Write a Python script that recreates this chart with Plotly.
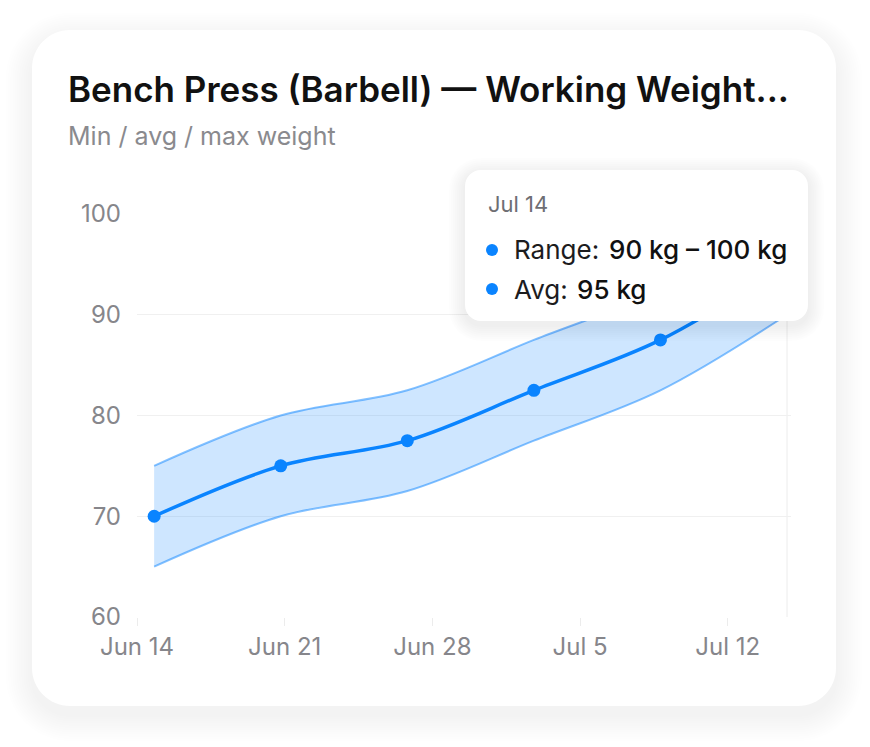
import plotly.graph_objects as go

# ---------------- data ----------------
dates = ["2024-06-14 19:30", "2024-06-20 19:30", "2024-06-26 19:30",
         "2024-07-02 19:30", "2024-07-08 19:30", "2024-07-14 19:30"]
min_w = [65, 70, 72.5, 77.5, 82.5, 90]
avg_w = [70, 75, 77.5, 82.5, 87.5, 95]
max_w = [75, 80, 82.5, 87.5, 92.5, 100]

title_text = "Bench Press (Barbell) — Working Weight..."
subtitle_text = "Min / avg / max weight"
tip_date = "Jul 14"
tip_range_label = "Range:"
tip_range_value = "90 kg – 100 kg"
tip_avg_label = "Avg:"
tip_avg_value = "95 kg"

# ---------------- layout geometry (pixels) ----------------
W, H = 870, 747
PL, PR, PT, PB = 137, 791, 214, 617

def fx(px):
    return (px - PL) / (PR - PL)

def fy(py):
    return (PB - py) / (PB - PT)

def rpath(x0, y0, x1, y1, r):
    k = 0.5523 * r
    def P(x, y):
        return f"{fx(x):.5f},{fy(y):.5f}"
    s = f"M{P(x0 + r, y0)} L{P(x1 - r, y0)} "
    s += f"C{P(x1 - r + k, y0)} {P(x1, y0 + r - k)} {P(x1, y0 + r)} "
    s += f"L{P(x1, y1 - r)} "
    s += f"C{P(x1, y1 - r + k)} {P(x1 - r + k, y1)} {P(x1 - r, y1)} "
    s += f"L{P(x0 + r, y1)} "
    s += f"C{P(x0 + r - k, y1)} {P(x0, y1 - r + k)} {P(x0, y1 - r)} "
    s += f"L{P(x0, y0 + r)} "
    s += f"C{P(x0, y0 + r - k)} {P(x0 + r - k, y0)} {P(x0 + r, y0)} Z"
    return s

shapes = []

def shadowed_box(x0, y0, x1, y1, r, layer, n, step, dy, alpha):
    for i in range(n, 0, -1):
        e = i * step
        shapes.append(dict(type="path", xref="paper", yref="paper", layer=layer,
                           path=rpath(x0 - e, y0 - e + dy, x1 + e, y1 + e + dy, r + e),
                           fillcolor=f"rgba(0,0,0,{alpha})", line=dict(width=0)))
    shapes.append(dict(type="path", xref="paper", yref="paper", layer=layer,
                       path=rpath(x0, y0, x1, y1, r),
                       fillcolor="#ffffff", line=dict(width=0)))

# card
shadowed_box(32, 30, 836, 706, 38, "below", 12, 2.2, 9, 0.0045)

# hover cursor line at last point
shapes.append(dict(type="line", xref="x", yref="paper", layer="between",
                   x0=dates[-1], x1=dates[-1], y0=0, y1=1,
                   line=dict(color="#ececec", width=1)))

# tooltip
shadowed_box(465, 170, 808, 321, 16, "above", 8, 2.0, 4, 0.009)
for cy in (250, 289):
    shapes.append(dict(type="circle", xref="paper", yref="paper", layer="above",
                       x0=fx(492 - 6), x1=fx(492 + 6), y0=fy(cy + 6), y1=fy(cy - 6),
                       fillcolor="#0a84ff", line=dict(width=0)))

FONT = "Inter"

def ann(text, px, py, size, color, weight=400):
    return dict(text=text, x=fx(px), y=fy(py), xref="paper", yref="paper",
                xanchor="left", yanchor="middle", showarrow=False,
                font=dict(family=FONT, size=size, color=color, weight=weight))

annotations = [
    ann(title_text, 66, 89, 35, "#111111", 600),
    ann(subtitle_text, 66, 136, 25, "#8a8a8e"),
    ann(tip_date, 486, 204, 22, "#6e6e73", 400),
    ann(tip_range_label, 512, 250, 26, "#1c1c1e"),
    ann(tip_range_value, 607, 250, 26, "#111111", 500),
    ann(tip_avg_label, 512, 289, 26, "#1c1c1e"),
    ann(tip_avg_value, 575, 289, 26, "#111111", 500),
]

fig = go.Figure()
fig.add_trace(go.Scatter(x=dates, y=min_w, mode="lines", name="Min",
                         line=dict(color="rgba(10,132,255,0.5)", width=2, shape="spline", smoothing=1.0),
                         hoverinfo="skip"))
fig.add_trace(go.Scatter(x=dates, y=max_w, mode="lines", name="Max", fill="tonexty",
                         fillcolor="rgba(10,132,255,0.2)",
                         line=dict(color="rgba(10,132,255,0.5)", width=2, shape="spline", smoothing=1.0),
                         hoverinfo="skip"))
fig.add_trace(go.Scatter(x=dates, y=avg_w, mode="lines+markers", name="Avg",
                         line=dict(color="#0a84ff", width=3.5, shape="spline", smoothing=1.0),
                         marker=dict(color="#0a84ff", size=13)))

fig.update_layout(
    width=W, height=H,
    margin=dict(l=PL, r=W - PR, t=PT, b=H - PB),
    paper_bgcolor="#ffffff",
    plot_bgcolor="rgba(0,0,0,0)",
    showlegend=False,
    shapes=shapes,
    annotations=annotations,
    font=dict(family=FONT),
)
fig.update_xaxes(
    type="date", range=["2024-06-14", "2024-07-15"],
    tick0="2024-06-14", dtick=7 * 24 * 3600 * 1000, tickformat="%b %-d",
    showgrid=False, zeroline=False, showline=False,
    ticks="outside", ticklen=8, tickcolor="#ececec", tickwidth=1,
    tickfont=dict(family=FONT, size=24, color="#86868b"),
    ticklabelstandoff=0,
)
fig.update_yaxes(
    range=[60, 100], dtick=10, showgrid=True, gridcolor="#f0f0f0", gridwidth=1,
    zeroline=False, showline=False, ticks="",
    tickfont=dict(family=FONT, size=24, color="#86868b"),
    ticklabelstandoff=15,
)

fig.write_html("out.html")
